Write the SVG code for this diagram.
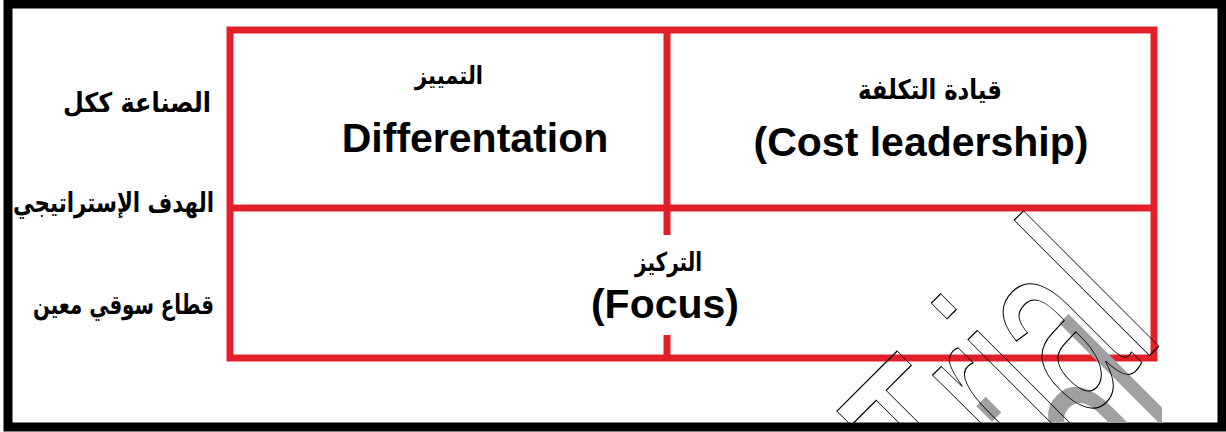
<svg xmlns="http://www.w3.org/2000/svg" width="1226" height="432" viewBox="0 0 1226 432">
  <style>
    .grid { stroke: #e3202a; stroke-width: 7; fill: none; }
    .ar { font-family: "DejaVu Sans", "Noto Sans", sans-serif; font-weight: bold; fill: #000; }
    .en { font-family: "Liberation Sans", Arial, sans-serif; font-weight: bold; font-size: 41px; fill: #000; text-anchor: middle; }
    .wm { font-family: "Liberation Sans", Arial, sans-serif; font-size: 264px; }
  </style>
  <defs>
    <clipPath id="inner"><rect x="12" y="8" width="1206" height="415"/></clipPath>
    <clipPath id="greyclip"><rect x="12" y="8" width="1150" height="415"/></clipPath>
  </defs>
  <rect x="0" y="0" width="1226" height="432" fill="#fff"/>

  <g id="connectors">
    <rect class="grid" x="230" y="30" width="924" height="328"/>
    <line class="grid" x1="230" y1="208" x2="1154" y2="208"/>
    <line class="grid" x1="667" y1="30" x2="667" y2="235"/>
    <line class="grid" x1="667" y1="335" x2="667" y2="358"/>
  </g>

  <g id="row-labels">
    <text class="ar" x="63" y="112" font-size="27" textLength="148" lengthAdjust="spacingAndGlyphs">الصناعة ككل</text>
    <text class="ar" x="13" y="212" font-size="27" textLength="201" lengthAdjust="spacingAndGlyphs">الهدف الإستراتيجي</text>
    <text class="ar" x="33" y="314" font-size="27" textLength="181" lengthAdjust="spacingAndGlyphs">قطاع سوقي معين</text>
  </g>

  <g id="node-differentiation">
    <text class="ar" x="415" y="84" font-size="25" textLength="68" lengthAdjust="spacingAndGlyphs">التمييز</text>
    <text class="en" x="475" y="152" font-size="40">Differentation</text>
  </g>

  <g id="node-cost">
    <text class="ar" x="858" y="99" font-size="27" textLength="144" lengthAdjust="spacingAndGlyphs">قيادة التكلفة</text>
    <text class="en" x="921" y="156">(Cost leadership)</text>
  </g>

  <g id="node-focus">
    <text class="ar" x="635" y="271" font-size="26" textLength="67" lengthAdjust="spacingAndGlyphs">التركيز</text>
    <text class="en" x="665" y="318">(Focus)</text>
  </g>

  <rect x="8" y="4" width="1214" height="423" fill="none" stroke="#000" stroke-width="9"/>

  <g id="watermark">
    <g clip-path="url(#greyclip)">
      <text class="wm" fill="#a0a0a0" transform="translate(1008,645) rotate(-45) scale(0.57,1)">Trial</text>
    </g>
    <g clip-path="url(#inner)">
      <text class="wm" fill="none" stroke="#000" stroke-width="1" vector-effect="non-scaling-stroke" transform="translate(963,542) rotate(-45) scale(0.57,1)">Trial</text>
    </g>
  </g>
</svg>
